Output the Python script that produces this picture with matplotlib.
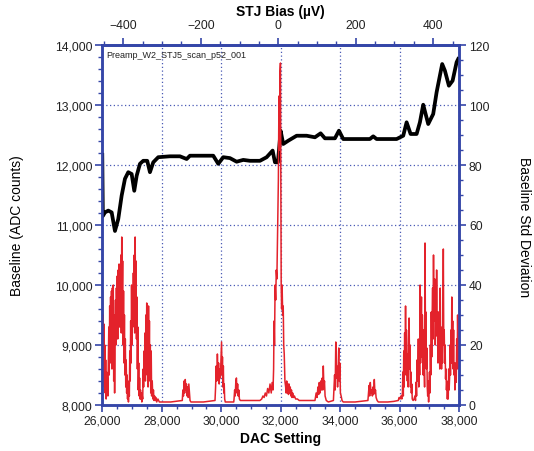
import matplotlib
matplotlib.use("Agg")
import matplotlib.pyplot as plt
from matplotlib.ticker import MultipleLocator

plt.rcParams['font.family'] = ['Liberation Sans', 'DejaVu Sans']

# ---- Baseline (ADC counts), left axis ----
base_dac = [26000, 26020, 26091, 26202, 26316, 26427, 26538, 26652, 26763, 26874,
            26988, 27076, 27156, 27267, 27378, 27512, 27603, 27714, 27882, 28275,
            28611, 28837, 28948, 29731, 29899, 30067, 30292, 30517, 30739, 30965,
            31301, 31526, 31727, 31805, 31905, 31996, 32083, 32252, 32534, 32870,
            33149, 33340, 33485, 33821, 33956, 34100, 34997, 35108, 35222, 35895,
            36117, 36231, 36365, 36567, 36678, 36789, 36957, 37125, 37239, 37427,
            37518, 37652, 37777, 37911, 37965]
base_adc = [12170, 11150, 11210, 11240, 11210, 10900, 11100, 11490, 11770, 11880,
            11850, 11570, 11820, 12020, 12070, 12070, 11880, 12045, 12130, 12145,
            12145, 12100, 12155, 12155, 12020, 12130, 12115, 12055, 12085, 12070,
            12070, 12130, 12240, 12045, 12045, 12570, 12350, 12405, 12488, 12488,
            12462, 12528, 12445, 12445, 12572, 12433, 12433, 12478, 12433, 12433,
            12488, 12712, 12517, 12517, 12712, 13005, 12683, 12850, 13212, 13683,
            13572, 13322, 13405, 13712, 13767]

# ---- Baseline Std Deviation, right axis ----
std_dac = [26000, 26012, 26025, 26040, 26055, 26070, 26085, 26100, 26115, 26130,
           26145, 26160, 26175, 26190, 26205, 26220, 26235, 26250, 26265, 26280,
           26295, 26310, 26325, 26340, 26355, 26370, 26385, 26400, 26415, 26430,
           26445, 26460, 26475, 26490, 26505, 26520, 26535, 26550, 26565, 26580,
           26595, 26610, 26625, 26640, 26655, 26670, 26685, 26700, 26715, 26730,
           26745, 26760, 26775, 26790, 26805, 26820, 26835, 26850, 26865, 26880,
           26895, 26910, 26925, 26940, 26955, 26970, 26985, 27000, 27015, 27030,
           27045, 27060, 27075, 27090, 27105, 27120, 27135, 27150, 27165, 27180,
           27195, 27210, 27225, 27240, 27255, 27270, 27285, 27300, 27315, 27330,
           27345, 27360, 27375, 27390, 27405, 27420, 27435, 27450, 27465, 27480,
           27495, 27510, 27525, 27540, 27555, 27570, 27585, 27600, 27615, 27630,
           27645, 27660, 27680, 27700, 27720, 27740, 27760, 27780, 27800, 27830,
           27870, 27920, 28000, 28300, 28690, 28710, 28730, 28750, 28770, 28790,
           28810, 28830, 28850, 28870, 28890, 28910, 28930, 28950, 28980, 29400,
           29790, 29810, 29830, 29850, 29870, 29890, 29910, 29930, 29950, 29970,
           29990, 30010, 30025, 30040, 30055, 30070, 30085, 30100, 30115, 30135,
           30420, 30430, 30450, 30470, 30490, 30510, 30530, 30550, 30570, 30590,
           30610, 30640, 30700, 30900, 31100, 31300, 31360, 31400, 31440, 31480,
           31520, 31560, 31600, 31640, 31680, 31710, 31740, 31760, 31775, 31790,
           31810, 31830, 31850, 31870, 31885, 31900, 31920, 31940, 31955, 31975,
           31990, 32005, 32015, 32030, 32045, 32065, 32083, 32100, 32117, 32140,
           32165, 32180, 32200, 32220, 32240, 32260, 32280, 32300, 32320, 32340,
           32360, 32380, 32400, 32430, 32460, 32500, 32560, 32620, 32700, 32900,
           33150, 33190, 33220, 33250, 33275, 33295, 33320, 33345, 33370, 33395,
           33415, 33430, 33450, 33470, 33490, 33530, 33600, 33770, 33790, 33810,
           33830, 33850, 33870, 33890, 33910, 33930, 33950, 33965, 33985, 34005,
           34030, 34060, 34100, 34500, 34930, 34950, 34970, 34990, 35010, 35035,
           35060, 35080, 35100, 35120, 35145, 35165, 35185, 35205, 35240, 35280,
           35600, 35800, 35950, 35980, 36010, 36040, 36070, 36090, 36105, 36120,
           36135, 36150, 36165, 36180, 36195, 36210, 36225, 36240, 36255, 36270,
           36285, 36300, 36315, 36330, 36345, 36360, 36375, 36390, 36405, 36420,
           36450, 36480, 36510, 36530, 36550, 36565, 36580, 36595, 36610, 36625,
           36640, 36655, 36670, 36685, 36700, 36715, 36730, 36745, 36760, 36775,
           36790, 36805, 36820, 36835, 36850, 36865, 36880, 36895, 36910, 36925,
           36940, 36955, 36970, 36985, 37000, 37015, 37030, 37045, 37060, 37075,
           37090, 37105, 37120, 37135, 37150, 37165, 37180, 37195, 37210, 37225,
           37240, 37255, 37270, 37285, 37300, 37315, 37330, 37345, 37360, 37375,
           37390, 37405, 37420, 37435, 37450, 37465, 37480, 37495, 37510, 37525,
           37540, 37555, 37570, 37585, 37600, 37615, 37630, 37645, 37660, 37675,
           37690, 37705, 37720, 37735, 37750, 37765, 37780, 37795, 37810, 37825,
           37840, 37855, 37870, 37885, 37900, 37915, 37930, 37945, 37960, 37975,
           37990, 38000]
std_val = [38, 6, 30, 14, 27, 9, 20, 4, 15, 2,
           11, 4, 9, 3, 16, 26, 10, 33, 14, 36,
           20, 38, 12, 39, 25, 40, 8, 30, 4, 22,
           35, 20, 39, 27, 43, 22, 45, 30, 47, 26,
           44, 32, 50, 24, 56, 35, 48, 20, 38, 14,
           30, 10, 22, 6, 15, 4, 10, 2, 8, 1,
           6, 3, 18, 8, 28, 14, 40, 20, 38, 26,
           44, 30, 50, 24, 56, 34, 48, 22, 36, 12,
           26, 5, 14, 3, 9, 2, 5, 2, 4, 1,
           3, 2, 12, 6, 18, 10, 24, 8, 30, 14,
           34, 10, 24, 6, 33, 12, 28, 8, 20, 4,
           18, 3, 8, 2, 5, 1.5, 3, 1.5, 2.5, 1,
           2, 1, 1, 1, 1.5, 5, 3, 8, 4, 8.5,
           5, 7, 3, 6, 2.5, 7, 4, 1.5, 1, 1,
           1.5, 6, 13, 8, 17, 10, 14, 7, 12, 9,
           15, 21, 10, 16, 6, 13, 4, 7, 2, 1,
           1, 2, 5, 3, 8, 9, 4, 7, 3, 5,
           2, 1.5, 1.5, 1.5, 1.5, 1.5, 2, 3, 2.5, 4,
           3, 5.5, 4, 7, 4, 7.5, 5, 12, 28, 20,
           40, 35, 45, 42, 52, 60, 75, 103, 85, 111,
           114, 65, 40, 32, 40, 30, 33, 20, 17, 8,
           6, 4, 8, 4, 7, 3.5, 7, 4, 6, 3,
           5, 2.5, 4, 2.5, 3, 2, 2, 1.5, 1.5, 1.5,
           1.5, 4, 2.5, 6, 3.5, 7.5, 4, 8, 5, 9,
           5, 13, 6, 8, 3, 1.5, 1, 1.5, 6, 10,
           5, 21, 9, 13, 6, 12, 19, 8, 14, 4,
           3, 1.5, 1, 1, 1.5, 4, 6.5, 3, 7.5, 4,
           5, 3, 6, 3.5, 8.5, 4, 5, 2.5, 1.5, 1,
           1, 1.2, 1.5, 2.5, 2, 3, 2, 4, 11, 3,
           18, 6, 24, 12, 33, 10, 25, 16, 8, 17,
           6, 22, 29, 12, 20, 6, 11, 4, 7, 2,
           1.5, 2, 3, 1.5, 7.6, 3, 15, 8, 12, 22,
           6, 18, 10, 40, 14, 25, 36, 16, 30, 22,
           10, 25, 14, 6, 54, 20, 31, 12, 19, 6,
           3, 8, 1, 6, 11, 4, 20, 10, 31, 16,
           30, 39, 22, 50, 28, 36, 42, 20, 32, 23,
           45, 26, 31, 14, 31, 16, 25, 12, 39, 20,
           26, 12, 21, 14, 30, 52, 20, 25, 14, 20,
           8.7, 12, 5, 8, 2, 6, 2, 12, 5, 9,
           20, 10, 25, 14, 36, 19, 28, 12, 25, 10,
           14, 5, 8, 14, 7.6, 22, 12, 30, 18, 22,
           12, 16.5]

# ---- axis settings ----
dac_ticks = [26000, 28000, 30000, 32000, 34000, 36000, 38000]
adc_ticks = [8000, 9000, 10000, 11000, 12000, 13000, 14000]
std_ticks = [0, 20, 40, 60, 80, 100, 120]
bias_ticks = [-400, -200, 0, 200, 400]
BIAS_ZERO_DAC = 31916.0
DAC_PER_UV = 13.02

blue = '#3546A8'
grid_blue = '#4A5BB5'
tick_col = '#222222'

fig = plt.figure(figsize=(5.34, 4.52), dpi=100)
ax = fig.add_axes([0.1915, 0.1018, 0.6685, 0.7964])
ax.set_xlim(26000, 38000)
ax.set_ylim(8000, 14000)

ax.grid(True, which='major', color=grid_blue, linestyle=(0, (1, 2)), linewidth=0.9)
ax.set_axisbelow(True)

ax.plot(base_dac, base_adc, color='black', lw=2.7, solid_joinstyle='round', zorder=3)

ax2 = ax.twinx()
ax2.set_ylim(0, 120)
ax2.plot(std_dac, std_val, color='#E3222B', lw=1.1, zorder=2)

for a in (ax, ax2):
    for s in a.spines.values():
        s.set_color(blue)
        s.set_linewidth(1.8)

ax.set_xticks(dac_ticks)
ax.set_xticklabels([f"{t:,}" for t in dac_ticks])
ax.set_yticks(adc_ticks)
ax.set_yticklabels([f"{t:,}" for t in adc_ticks])
ax.xaxis.set_minor_locator(MultipleLocator(500))
ax.yaxis.set_minor_locator(MultipleLocator(200))
ax2.set_yticks(std_ticks)
ax2.yaxis.set_minor_locator(MultipleLocator(5))

ax.tick_params(which='major', direction='out', length=5, width=1.2, color=blue,
               labelsize=8.7, labelcolor=tick_col, pad=2)
ax.tick_params(which='minor', direction='out', length=3, width=1.0, color=blue)
ax2.tick_params(which='major', direction='out', length=5, width=1.2, color=blue,
                labelsize=8.7, labelcolor=tick_col, pad=2)
ax2.tick_params(which='minor', direction='out', length=3, width=1.0, color=blue)

secx = ax.secondary_xaxis('top', functions=(lambda d: (d - BIAS_ZERO_DAC) / DAC_PER_UV,
                                             lambda u: u * DAC_PER_UV + BIAS_ZERO_DAC))
secx.set_xticks(bias_ticks)
secx.xaxis.set_minor_locator(MultipleLocator(50))
secx.tick_params(which='major', direction='out', length=5, width=1.2, color=blue,
                 labelsize=8.7, labelcolor=tick_col, pad=5)
secx.tick_params(which='minor', direction='out', length=3, width=1.0, color=blue)
secx.spines['top'].set_color(blue)
secx.spines['top'].set_linewidth(1.8)
secx.set_xlabel('STJ Bias (\u00b5V)', fontsize=10, fontweight='bold', labelpad=3)

ax.set_xlabel('DAC Setting', fontsize=10, fontweight='bold', labelpad=3)
ax.set_ylabel('Baseline (ADC counts)', fontsize=10, labelpad=22)
fig.text(524 / 534, 1 - 227 / 452, 'Baseline Std Deviation', fontsize=10,
         rotation=-90, ha='center', va='center', rotation_mode='anchor')

ax.text(0.01, 0.985, 'Preamp_W2_STJ5_scan_p52_001', transform=ax.transAxes,
        fontsize=6.5, va='top', ha='left', color='#222222')

fig.savefig('out.png', dpi=100)
